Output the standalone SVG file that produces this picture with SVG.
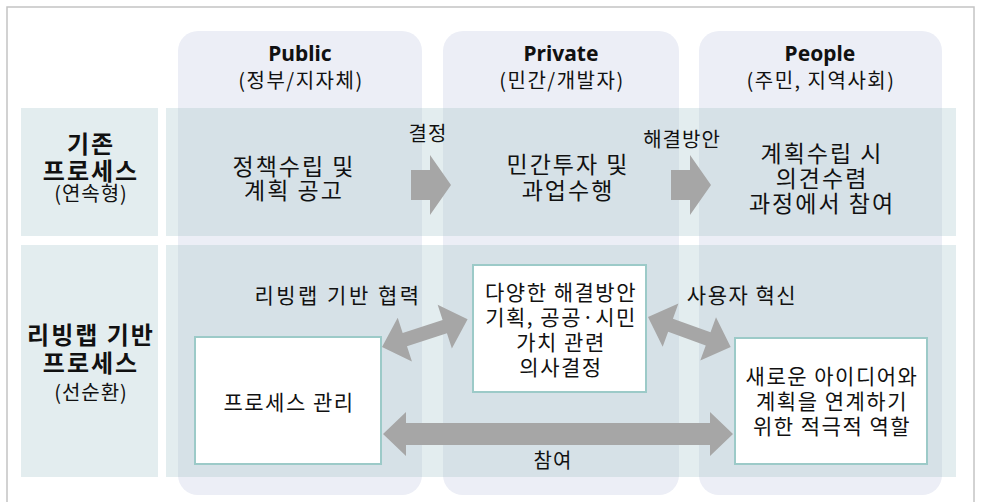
<svg xmlns="http://www.w3.org/2000/svg" width="983" height="502" viewBox="0 0 983 502">
<style>
.col{fill:#eceef6}
.band{fill:#e3edef}
.ov{fill:#d6e1e7}
.lbl{fill:#e3edef}
.box{fill:#ffffff;stroke:#9ccac8;stroke-width:2}
.arr{fill:#a6a6a6}
text{font-family:"Noto Sans CJK KR","Noto Sans",sans-serif;fill:#111;text-anchor:middle}
.hd{font-family:"Noto Sans","Noto Sans CJK KR",sans-serif;font-weight:bold;font-size:21px}
.sub{font-size:20px;letter-spacing:1.5px}
.rl{font-weight:bold;font-size:24px;letter-spacing:2px}
.big{font-size:23px;letter-spacing:2px}
.t{font-size:21px;letter-spacing:1.5px}
.s{font-size:20px;letter-spacing:1px}
</style>
<rect x="7" y="7" width="967" height="530" fill="#ffffff" stroke="#c4c4c4" stroke-width="1.5"/>
<g id="columns">
<rect class="col" x="178" y="31" width="244" height="464" rx="20"/>
<rect class="col" x="443" y="31" width="236" height="464" rx="20"/>
<rect class="col" x="699" y="31" width="243" height="464" rx="20"/>
</g>
<g id="bands">
<rect class="band" x="166" y="108" width="790" height="128"/>
<rect class="band" x="166" y="245" width="790" height="232"/>
<rect class="ov" x="178" y="108" width="244" height="128"/>
<rect class="ov" x="443" y="108" width="236" height="128"/>
<rect class="ov" x="699" y="108" width="243" height="128"/>
<rect class="ov" x="178" y="245" width="244" height="232"/>
<rect class="ov" x="443" y="245" width="236" height="232"/>
<rect class="ov" x="699" y="245" width="243" height="232"/>
</g>
<g id="header-public"><text class="hd" x="300" y="61">Public</text><text class="sub" x="301" y="88">(정부/지자체)</text></g>
<g id="header-private"><text class="hd" x="561" y="61">Private</text><text class="sub" x="562" y="88">(민간/개발자)</text></g>
<g id="header-people"><text class="hd" x="820" y="61">People</text><text class="sub" x="821" y="88">(주민, 지역사회)</text></g>
<g id="row1-label">
<rect class="lbl" x="21" y="108" width="137" height="128"/>
<text class="rl" x="91" y="153">기존</text>
<text class="rl" x="91" y="180">프로세스</text>
<text class="s" x="91" y="201">(연속형)</text>
</g>
<g id="row2-label">
<rect class="lbl" x="21" y="245" width="137" height="232"/>
<text class="rl" x="91" y="344">리빙랩 기반</text>
<text class="rl" x="91" y="372">프로세스</text>
<text class="s" x="91" y="400">(선순환)</text>
</g>
<g id="r1-public"><text class="big" x="294" y="175">정책수립 및</text><text class="big" x="294" y="199">계획 공고</text></g>
<g id="r1-private"><text class="big" x="568" y="173">민간투자 및</text><text class="big" x="568" y="199">과업수행</text></g>
<g id="r1-people"><text class="big" x="822" y="162">계획수립 시</text><text class="big" x="822" y="187">의견수렴</text><text class="big" x="822" y="212">과정에서 참여</text></g>
<g id="box-process">
<rect class="box" x="195" y="337" width="186" height="127"/>
<text class="t" x="289" y="410">프로세스 관리</text>
</g>
<g id="box-solutions">
<rect class="box" x="473" y="265" width="173" height="127"/>
<text class="t" x="561" y="300">다양한 해결방안</text>
<text class="t" x="561" y="325">기획, 공공·시민</text>
<text class="t" x="561" y="350">가치 관련</text>
<text class="t" x="561" y="375">의사결정</text>
</g>
<g id="box-ideas">
<rect class="box" x="735" y="338" width="192" height="126"/>
<text class="t" x="832" y="384">새로운 아이디어와</text>
<text class="t" x="832" y="409">계획을 연계하기</text>
<text class="t" x="832" y="434">위한 적극적 역할</text>
</g>
<g id="connectors">
<path class="arr" d="M411,170 L430,170 L430,155 L451,185 L430,215 L430,200 L411,200 Z"/>
<path class="arr" d="M671,170 L690,170 L690,155 L711,185 L690,215 L690,200 L671,200 Z"/>
<path class="arr" transform="translate(382,347) rotate(-18)" d="M0,0 L24,-23 L24,-7 L66,-7 L66,-23 L90,0 L66,23 L66,7 L24,7 L24,23 Z"/>
<path class="arr" transform="translate(648,317) rotate(20)" d="M0,0 L24,-23 L24,-7 L64,-7 L64,-23 L88,0 L64,23 L64,7 L24,7 L24,23 Z"/>
<path class="arr" d="M383,434 L406,412 L406,423 L710,423 L710,412 L733,434 L710,456 L710,445 L406,445 L406,456 Z"/>
<text class="s" x="428" y="141">결정</text>
<text class="s" x="682" y="147">해결방안</text>
<text class="t" x="338" y="303" style="letter-spacing:2.5px">리빙랩 기반 협력</text>
<text class="t" x="742" y="303">사용자 혁신</text>
<text class="s" x="553" y="468">참여</text>
</g>
</svg>
